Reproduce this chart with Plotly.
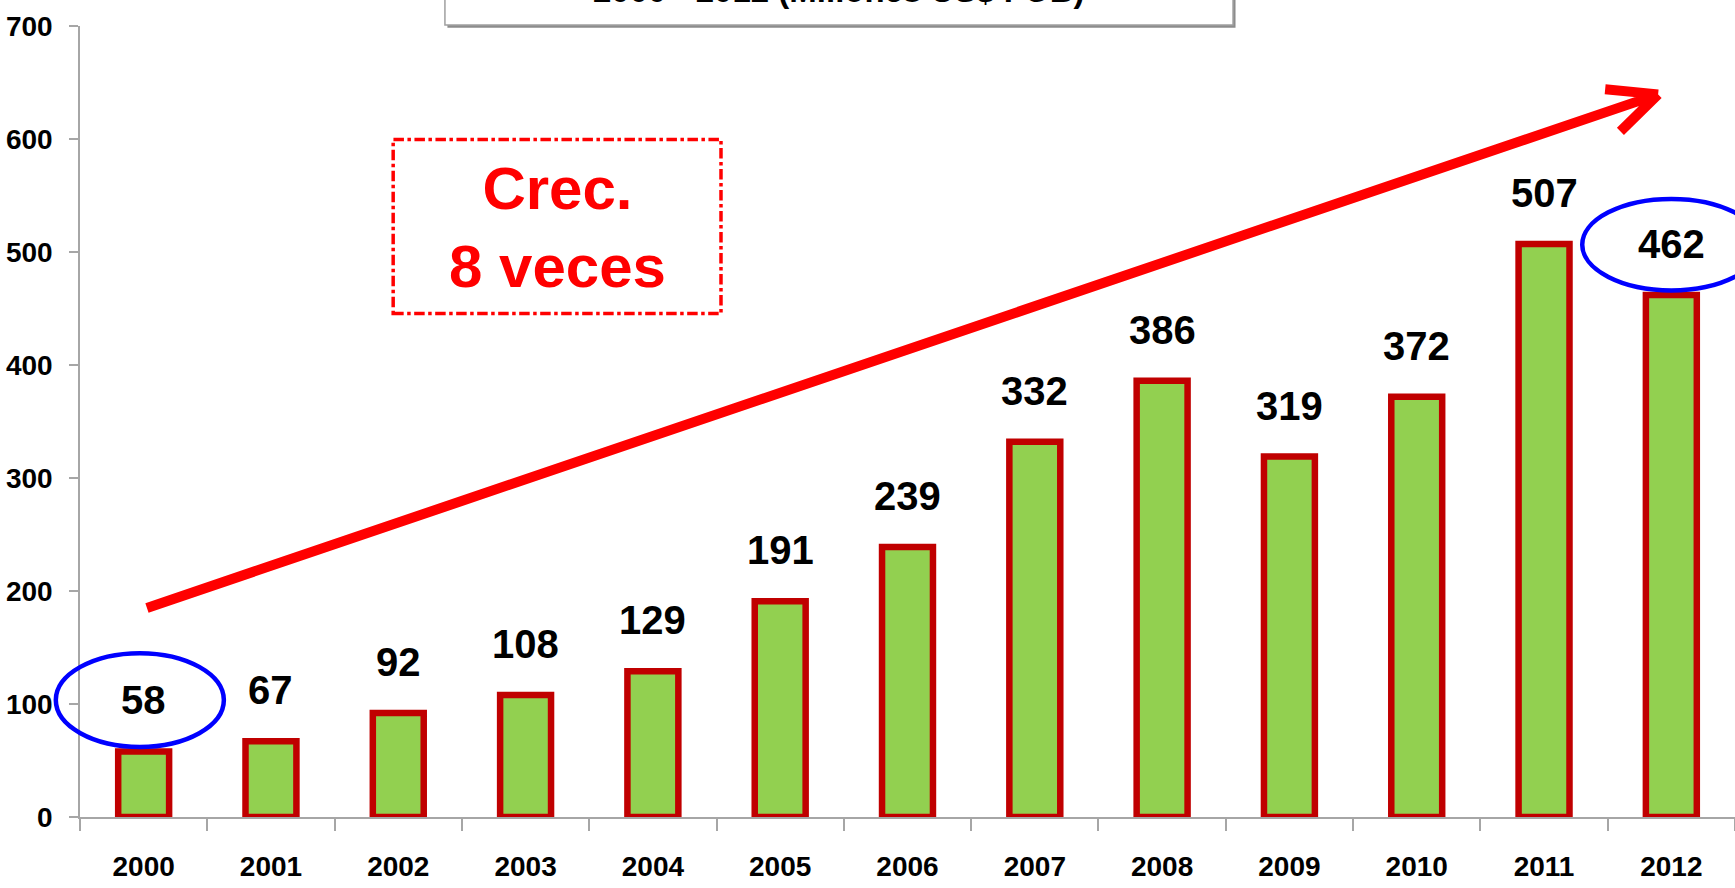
import plotly.graph_objects as go

years = ["2000", "2001", "2002", "2003", "2004", "2005", "2006",
         "2007", "2008", "2009", "2010", "2011", "2012"]
values = [58, 67, 92, 108, 129, 191, 239, 332, 386, 319, 372, 507, 462]
y_ticks = [0, 100, 200, 300, 400, 500, 600, 700]
title_text = "2000 - 2012 (Millones US$ FOB)"
box_text = "Crec.<br>8 veces"

FONT = "Liberation Sans, Arial, sans-serif"

X_MIN, X_MAX = -0.5, len(years) - 0.5
Y_MIN, Y_MAX = 0, 700


def px(x):
    return (x - X_MIN) / (X_MAX - X_MIN)


def py(y):
    return (y - Y_MIN) / (Y_MAX - Y_MIN)


fig = go.Figure()
fig.add_trace(go.Bar(
    x=years, y=values, width=0.4,
    marker=dict(color="#92D050", line=dict(color="#C00000", width=6.5)),
    hoverinfo="x+y",
))

annotations = []
for i, v in enumerate(values):
    annotations.append(dict(
        x=i, y=v, xref="x", yref="y", text=str(v), showarrow=False,
        yshift=51, yanchor="middle",
        font=dict(family=FONT, size=40, color="black", weight="bold"),
    ))

# growth text box
annotations.append(dict(
    x=px(3.25), y=py(522), xref="paper", yref="paper", text=box_text,
    showarrow=False, xanchor="center", yanchor="middle",
    font=dict(family=FONT, size=60, color="#FF0000", weight="bold"),
))

# title (mostly cut off above the page, as in the original)
annotations.append(dict(
    x=(0.2205 + 0.6967) / 2, y=1.045, xref="paper", yref="paper",
    text=title_text, showarrow=False, xanchor="center", yanchor="middle",
    font=dict(family=FONT, size=33, color="black", weight="bold"),
))

shapes = []
# title frame with shadow
shapes.append(dict(type="rect", xref="paper", yref="paper",
                   x0=0.2205 + 0.0015, x1=0.6967 + 0.0015, y0=1.0013 - 0.0035, y1=1.2,
                   fillcolor="#8C8C8C", line=dict(width=0), layer="above"))
shapes.append(dict(type="rect", xref="paper", yref="paper",
                   x0=0.2205, x1=0.6967, y0=1.0013, y1=1.2,
                   fillcolor="white", line=dict(color="#A0A0A0", width=1.5), layer="above"))

# dash-dot box
shapes.append(dict(type="rect", xref="paper", yref="paper",
                   x0=px(1.96), x1=px(4.535), y0=py(445.5), y1=py(599.6),
                   line=dict(color="#FF0000", width=3.5, dash="dashdot"),
                   fillcolor="rgba(0,0,0,0)", layer="above"))

# ellipses
shapes.append(dict(type="circle", xref="paper", yref="paper",
                   x0=px(-0.69), x1=px(0.63), y0=py(62), y1=py(145),
                   line=dict(color="#0000FF", width=4.5), layer="above"))
shapes.append(dict(type="circle", xref="paper", yref="paper",
                   x0=px(11.30), x1=px(12.70), y0=py(466), y1=py(547),
                   line=dict(color="#0000FF", width=4.5), layer="above"))

# big arrow
x_s, y_s = 0.026, 185
x_t, y_t = 11.896, 639.5
x_a1, y_a1 = 11.48, 644
x_a2, y_a2 = 11.60, 606.7
path = (f"M {px(x_s)},{py(y_s)} L {px(x_t)},{py(y_t)} "
        f"M {px(x_a1)},{py(y_a1)} L {px(x_t)},{py(y_t)} "
        f"M {px(x_a2)},{py(y_a2)} L {px(x_t)},{py(y_t)}")
shapes.append(dict(type="path", xref="paper", yref="paper", path=path,
                   line=dict(color="#FF0000", width=10), layer="above"))

fig.update_layout(
    width=1735, height=888,
    margin=dict(l=80, r=0, t=26, b=71, autoexpand=False),
    plot_bgcolor="white", paper_bgcolor="white",
    showlegend=False,
    annotations=annotations, shapes=shapes,
    xaxis=dict(
        type="category", range=[X_MIN, X_MAX], automargin=False,
        showline=True, linecolor="#A6A6A6", linewidth=1.5,
        ticks="outside", tickson="boundaries", ticklen=12, tickcolor="#A6A6A6", tickwidth=1.5,
        ticklabelstandoff=24,
        tickfont=dict(family=FONT, size=28, color="black", weight="bold"),
        showgrid=False, zeroline=False,
    ),
    yaxis=dict(
        range=[Y_MIN, Y_MAX], tickvals=y_ticks, automargin=False,
        showline=True, linecolor="#A6A6A6", linewidth=1.5,
        ticks="outside", ticklen=9, tickcolor="#A6A6A6", tickwidth=1.5,
        ticklabelstandoff=11,
        tickfont=dict(family=FONT, size=28, color="black", weight="bold"),
        showgrid=False, zeroline=False,
    ),
)

fig.write_html("out.html", config={"displayModeBar": False},
               post_script="document.body.style.margin='0px';")
